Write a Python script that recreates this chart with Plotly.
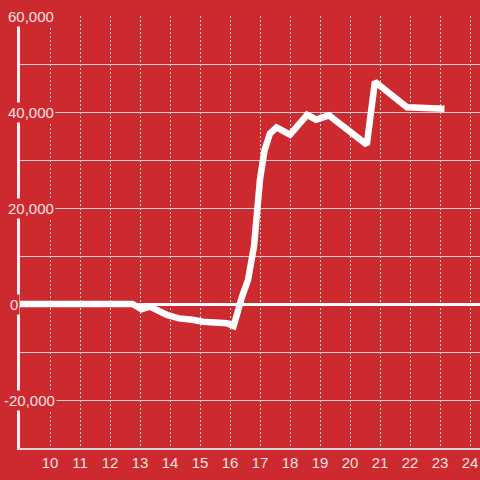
import plotly.graph_objects as go

# data: hour of day vs value
hours = [9.0, 12.75, 13.05, 13.33, 13.9, 14.3, 14.75, 15.1, 15.9, 16.12, 16.4, 16.6, 16.8,
         17.0, 17.15, 17.33, 17.55, 18.0, 18.57, 18.87, 19.3, 20.56, 20.83, 21.9, 23.15]
values = [0, 0, -1100, -550, -2300, -3000, -3300, -3700, -4000, -4600, 1500, 5000, 12000,
          26000, 32000, 35500, 36800, 35300, 39400, 38400, 39300, 33200, 46300, 41000, 40700]

x_ticks = list(range(10, 25))
y_label_vals = [-20000, 0, 20000, 40000, 60000]
y_label_text = ["-20,000", "0", "20,000", "40,000", "60,000"]

BG = "#cc2a2f"
GRID = "#d4d4d4"
TXT = "#f6e2e2"
FONT = "Liberation Sans"

fig = go.Figure()
fig.add_trace(go.Scatter(x=hours, y=values, mode="lines",
                         line=dict(color="white", width=6.5), hoverinfo="skip"))

annotations = []
for v, t in zip(y_label_vals, y_label_text):
    annotations.append(dict(
        x=0, xref="paper", y=v, yref="y", text=t, showarrow=False,
        xanchor="left", yanchor="middle", xshift=-14 - (4 if v < 0 else 0) + (2 if v == 0 else 0),
        bgcolor=BG, borderpad=1,
        font=dict(family=FONT, size=15, color=TXT)))

fig.update_layout(
    width=480, height=480,
    margin=dict(l=20, r=0, t=16, b=32),
    paper_bgcolor=BG, plot_bgcolor=BG,
    showlegend=False,
    annotations=annotations,
    xaxis=dict(range=[9, 24.333], tickvals=x_ticks, ticktext=[str(t) for t in x_ticks],
               showgrid=True, gridcolor=GRID, griddash="2px,2px", gridwidth=1,
               showline=True, linecolor=GRID, linewidth=2,
               ticks="", zeroline=False,
               tickfont=dict(family=FONT, size=15, color=TXT)),
    yaxis=dict(range=[-30000, 60000], dtick=10000, tick0=0,
               showgrid=True, gridcolor=GRID, gridwidth=1,
               showticklabels=False, ticks="",
               zeroline=True, zerolinecolor="white", zerolinewidth=3,
               showline=True, linecolor="#f2f2f2", linewidth=3),
)

fig.write_html("out.html", config={"displayModeBar": False},
               post_script="document.body.style.margin='0px';document.body.style.overflow='hidden';document.body.style.background='%s';" % BG)
